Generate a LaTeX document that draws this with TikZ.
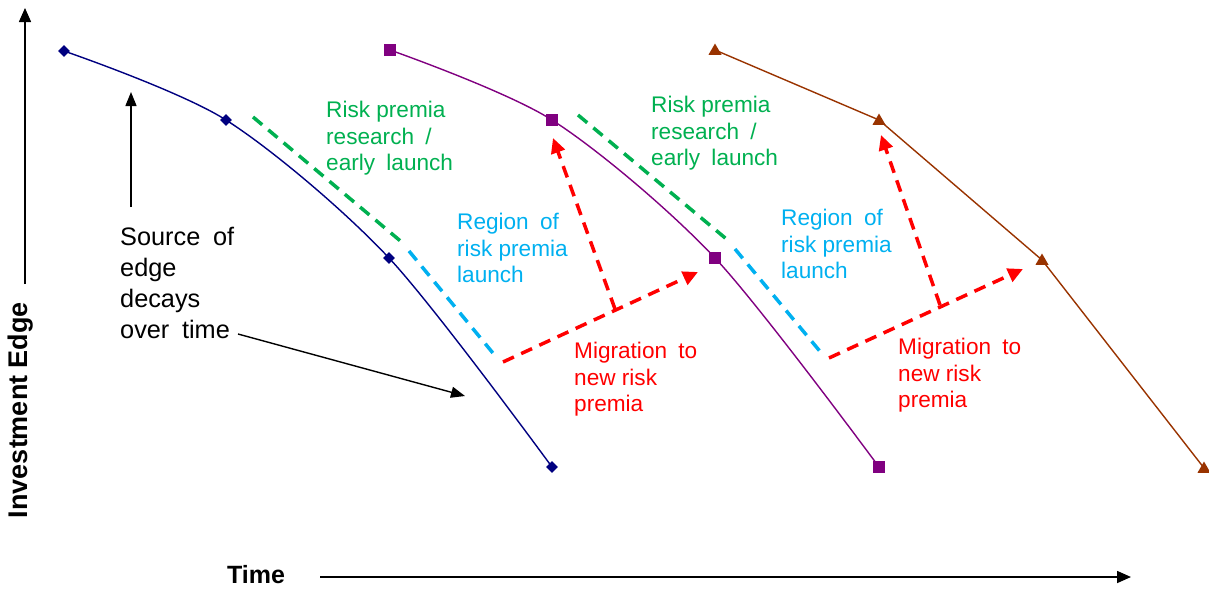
\documentclass[tikz,border=0pt]{standalone}
\usepackage{fontspec}
\setmainfont{Liberation Sans}
\usetikzlibrary{arrows.meta,shapes.geometric}
\definecolor{navyc}{RGB}{0,0,128}
\definecolor{purplec}{RGB}{128,0,128}
\definecolor{brownc}{RGB}{153,51,0}
\definecolor{greenc}{RGB}{0,176,80}
\definecolor{cyanc}{RGB}{0,176,240}
\definecolor{redc}{RGB}{255,0,0}
\newcommand{\ws}{\hspace{0.5em}}
\tikzset{
  axisarrow/.style={line width=1.6pt,-{Triangle[length=14pt,width=12pt]}},
  blackarrow/.style={line width=1.4pt,-{Triangle[length=14pt,width=11pt]}},
  curve/.style={line width=1.4pt},
  dashline/.style={line width=3.5pt,dash pattern=on 12pt off 8pt},
  redarrow/.style={dashline,redc,-{Triangle[length=15pt,width=14pt]}},
  diamk/.style={diamond,fill=navyc,inner sep=0pt,minimum width=12pt,minimum height=12pt},
  sqmk/.style={rectangle,fill=purplec,inner sep=0pt,minimum size=11.5pt},
  trimk/.style={regular polygon,regular polygon sides=3,fill=brownc,inner sep=0pt,minimum size=15pt},
  clabel/.style={anchor=north west,align=left,inner sep=0pt,font=\fontsize{22.6}{26.5}\selectfont},
  blabel/.style={anchor=north west,align=left,inner sep=0pt,font=\fontsize{25.3}{31}\selectfont},
}
\begin{document}
\begin{tikzpicture}[x=1pt,y=-1pt]
\useasboundingbox (0,0) rectangle (1209,589);
% axes
\coordinate (yb) at (25,284);
\coordinate (yt) at (25,8);
\draw[axisarrow] (yb) -- (yt);
\node[rotate=90,font=\fontsize{27}{30}\selectfont\bfseries] (ylab) at (21,410) {Investment Edge};
\node[font=\fontsize{25}{30}\selectfont\bfseries] (xlab) at (256,575) {Time};
\coordinate (xl) at (320,577);
\coordinate (xr) at (1131,577);
\draw[axisarrow] (xl) -- (xr);
% series points
\coordinate (a1) at (64,51);
\coordinate (a2) at (226,120);
\coordinate (a3) at (389,258);
\coordinate (a4) at (552,467);
\coordinate (b1) at (390,50);
\coordinate (b2) at (552,120);
\coordinate (b3) at (715,258);
\coordinate (b4) at (879,467);
\coordinate (c1) at (715,50);
\coordinate (c2) at (879,120);
\coordinate (c3) at (1042,260);
\coordinate (c4) at (1204,468);
\draw[curve,navyc] plot[smooth,tension=0.5] coordinates {(a1) (a2) (a3) (a4)};
\draw[curve,purplec] plot[smooth,tension=0.5] coordinates {(b1) (b2) (b3) (b4)};
\draw[curve,brownc] (c1) -- (c2) -- (c3) -- (c4);
\foreach \p in {a1,a2,a3,a4} \node[diamk] (m\p) at (\p) {};
\foreach \p in {b1,b2,b3,b4} \node[sqmk] (m\p) at (\p) {};
\foreach \p in {c1,c2,c3,c4} \node[trimk] (m\p) at ([yshift=-1pt]\p) {};
% first set of dashed lines
\coordinate (g1s) at (253,117);
\coordinate (g1e) at (404,244);
\coordinate (u1s) at (409,251);
\coordinate (u1e) at (497,358);
\coordinate (r1s) at (503,362);
\coordinate (r1t) at (698,272);
\coordinate (r1c) at (615,309);
\coordinate (r1u) at (553,138);
\draw[dashline,greenc] (g1s) -- (g1e);
\draw[dashline,cyanc] (u1s) -- (u1e);
\draw[redarrow] (r1s) -- (r1t);
\draw[redarrow] (r1c) -- (r1u);
% second set
\coordinate (g2s) at (578,115);
\coordinate (g2e) at (730,242);
\coordinate (u2s) at (735,249);
\coordinate (u2e) at (823,355);
\coordinate (r2s) at (829,358);
\coordinate (r2t) at (1023,269);
\coordinate (r2c) at (940,305);
\coordinate (r2u) at (881,135);
\draw[dashline,greenc] (g2s) -- (g2e);
\draw[dashline,cyanc] (u2s) -- (u2e);
\draw[redarrow] (r2s) -- (r2t);
\draw[redarrow] (r2c) -- (r2u);
% labels
\node[clabel,text=greenc] (gl1) at (326,101) {Risk premia\\research\ws/\\early\ws launch};
\node[clabel,text=greenc] (gl2) at (651,96) {Risk premia\\research\ws/\\early\ws launch};
\node[clabel,text=cyanc] (ul1) at (457,213) {Region\ws of\\risk premia\\launch};
\node[clabel,text=cyanc] (ul2) at (781,209) {Region\ws of\\risk premia\\launch};
\node[clabel,text=redc] (rl1) at (574,342) {Migration\ws to\\new risk\\premia};
\node[clabel,text=redc] (rl2) at (898,338) {Migration\ws to\\new risk\\premia};
\node[blabel] (src) at (120,227) {Source\ws of\\edge\\decays\\over\ws time};
% black arrows
\coordinate (k1s) at (131,207);
\coordinate (k1t) at (131,92);
\coordinate (k2s) at (238,334);
\coordinate (k2t) at (465,396);
\draw[blackarrow] (k1s) -- (k1t);
\draw[blackarrow] (k2s) -- (k2t);
\end{tikzpicture}
\end{document}
